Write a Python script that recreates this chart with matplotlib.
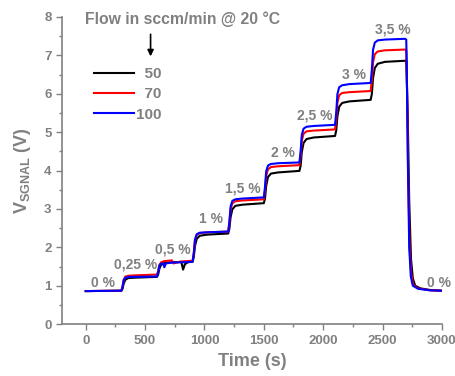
import matplotlib
matplotlib.use('Agg')
import matplotlib.pyplot as plt
from matplotlib.ticker import MultipleLocator

plt.rcParams['font.family'] = ['Liberation Sans', 'DejaVu Sans']
plt.rcParams['mathtext.default'] = 'regular'

GRAY = '#808080'

# step response of the sensor (time in s, signal in V)
t_black = [0, 300, 310, 320, 335, 360, 420, 600, 610, 620, 635, 660, 720, 805, 820, 835, 860, 900,
           910, 920, 935, 960, 1020, 1200, 1210, 1220, 1235, 1260, 1320, 1500,
           1510, 1520, 1535, 1560, 1620, 1800, 1810, 1820, 1835, 1860, 1920, 2100,
           2110, 2120, 2135, 2160, 2220, 2400, 2410, 2420, 2435, 2460, 2520, 2700,
           2712, 2725, 2740, 2755, 2775, 2820, 2900, 3000]
v_black = [0.86, 0.87, 0.92, 1.06, 1.16, 1.20, 1.21, 1.23, 1.29, 1.44, 1.55, 1.59, 1.61, 1.62, 1.42, 1.56, 1.61, 1.63,
           1.74, 2.03, 2.22, 2.30, 2.33, 2.36, 2.48, 2.78, 2.99, 3.08, 3.11, 3.15,
           3.27, 3.60, 3.83, 3.92, 3.95, 3.99, 4.12, 4.48, 4.72, 4.82, 4.86, 4.90,
           5.04, 5.41, 5.66, 5.76, 5.80, 5.84, 5.99, 6.40, 6.67, 6.78, 6.83, 6.86,
           5.50, 3.20, 1.70, 1.20, 1.00, 0.93, 0.89, 0.87]

t_red = [0, 300, 310, 320, 335, 360, 420, 600, 610, 620, 635, 660, 725, 740, 760, 800, 900,
         910, 920, 935, 960, 1020, 1200, 1210, 1220, 1235, 1260, 1320, 1500,
         1510, 1520, 1535, 1560, 1620, 1800, 1810, 1820, 1835, 1860, 1920, 2100,
         2110, 2120, 2135, 2160, 2220, 2400, 2410, 2420, 2435, 2460, 2520, 2690, 2700,
         2705, 2715, 2728, 2742, 2760, 2800, 2900, 3000]
v_red = [0.86, 0.87, 0.97, 1.16, 1.24, 1.26, 1.27, 1.29, 1.38, 1.54, 1.61, 1.64, 1.66, 1.58, 1.60, 1.63, 1.65,
         1.84, 2.18, 2.33, 2.37, 2.39, 2.41, 2.62, 2.98, 3.15, 3.20, 3.22, 3.25,
         3.47, 3.86, 4.03, 4.09, 4.11, 4.14, 4.37, 4.78, 4.96, 5.02, 5.04, 5.07,
         5.32, 5.76, 5.96, 6.02, 6.04, 6.07, 6.34, 6.82, 7.03, 7.10, 7.13, 7.15, 7.14,
         6.50, 4.20, 2.00, 1.30, 1.02, 0.93, 0.88, 0.87]

t_blue = [0, 300, 310, 320, 335, 360, 420, 600, 610, 620, 635, 650, 662, 675, 720, 900,
          910, 920, 935, 960, 1020, 1200, 1210, 1220, 1235, 1260, 1320, 1500,
          1510, 1520, 1535, 1560, 1620, 1800, 1810, 1820, 1835, 1860, 1920, 2100,
          2110, 2120, 2135, 2160, 2220, 2400, 2410, 2420, 2435, 2460, 2520, 2690, 2700,
          2704, 2713, 2725, 2738, 2755, 2800, 2900, 3000]
v_blue = [0.86, 0.87, 0.98, 1.15, 1.21, 1.23, 1.23, 1.24, 1.36, 1.52, 1.58, 1.58, 1.48, 1.58, 1.60, 1.62,
          1.85, 2.20, 2.34, 2.38, 2.39, 2.41, 2.67, 3.06, 3.21, 3.25, 3.27, 3.30,
          3.57, 3.98, 4.13, 4.17, 4.19, 4.21, 4.50, 4.93, 5.09, 5.14, 5.16, 5.19,
          5.51, 5.99, 6.17, 6.22, 6.25, 6.28, 6.62, 7.14, 7.33, 7.39, 7.41, 7.43, 7.41,
          6.80, 4.30, 2.00, 1.25, 1.00, 0.92, 0.88, 0.87]

flow_labels = ['  50', '  70', '100']

conc_labels = ['0 %', '0,25 %', '0,5 %', '1 %', '1,5 %', '2 %', '2,5 %', '3 %', '3,5 %', '0 %']
conc_t = [143, 421, 733, 1053, 1323, 1660, 1929, 2258, 2585, 2975]
conc_v = [1.07, 1.54, 1.95, 2.73, 3.52, 4.46, 5.42, 6.49, 7.66, 1.07]

fig = plt.figure(figsize=(4.56, 3.76), dpi=100)
ax = fig.add_axes([0.136, 0.138, 0.833, 0.817])

ax.plot(t_black, v_black, color='black', lw=1.5, label=flow_labels[0])
ax.plot(t_red, v_red, color='red', lw=1.5, label=flow_labels[1])
ax.plot(t_blue, v_blue, color='blue', lw=1.5, label=flow_labels[2])

for lab, x, y in zip(conc_labels, conc_t, conc_v):
    ax.text(x, y, lab, color=GRAY, fontsize=10, fontweight='bold', ha='center', va='center')

ax.text(-10, 7.94, 'Flow in sccm/min @ 20 °C', color=GRAY, fontsize=11.3, fontweight='bold',
        ha='left', va='center')
ax.annotate('', xy=(546, 6.9), xytext=(546, 7.62),
            arrowprops=dict(arrowstyle='-|>', color='black', lw=1.2, mutation_scale=9))

leg = ax.legend(loc='upper left', bbox_to_anchor=(0.065, 0.862), frameon=False,
                prop={'weight': 'bold', 'size': 11}, handlelength=2.6, handletextpad=0.15,
                labelspacing=0.42, borderpad=0)
for txt in leg.get_texts():
    txt.set_color(GRAY)

ax.set_xlim(-200, 3000)
ax.set_ylim(0, 8)
ax.xaxis.set_major_locator(MultipleLocator(500))
ax.xaxis.set_minor_locator(MultipleLocator(250))
ax.yaxis.set_major_locator(MultipleLocator(1))
ax.yaxis.set_minor_locator(MultipleLocator(0.5))

for side in ['top', 'right']:
    ax.spines[side].set_visible(False)
for side in ['left', 'bottom']:
    ax.spines[side].set_color(GRAY)
    ax.spines[side].set_linewidth(1.2)
ax.tick_params(which='both', direction='out', colors=GRAY, width=1)
ax.tick_params(which='major', length=4, labelsize=9.5)
ax.tick_params(which='minor', length=2)
for lab in ax.get_xticklabels() + ax.get_yticklabels():
    lab.set_fontweight('bold')

ax.set_xlabel('Time (s)', color=GRAY, fontsize=13, fontweight='bold', labelpad=5)
ax.set_ylabel('V$_{SGNAL}$ (V)', color=GRAY, fontsize=13, fontweight='bold', labelpad=8)

fig.savefig('out.png', dpi=100)
